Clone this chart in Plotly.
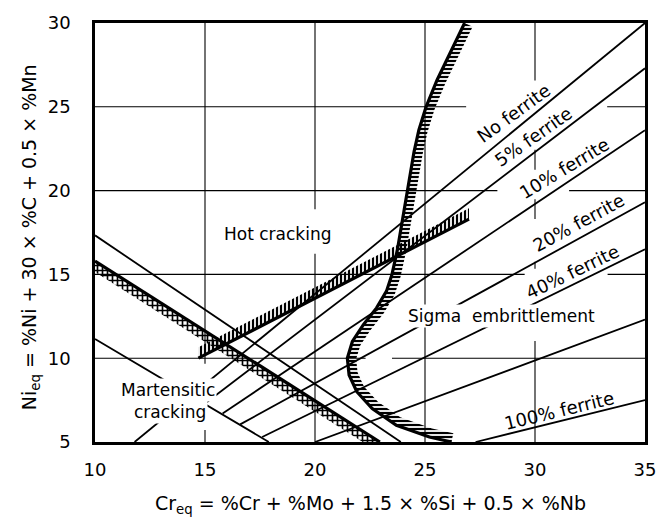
import numpy as np
import plotly.graph_objects as go

# ---------------------------------------------------------------- data
x_ticks = [10, 15, 20, 25, 30, 35]
y_ticks = [5, 10, 15, 20, 25, 30]

# iso-ferrite lines: start point and Ni_eq reached at Cr_eq = 35
ferrite_labels = ["No ferrite", "5% ferrite", "10% ferrite", "20% ferrite",
                  "40% ferrite", "", "100% ferrite"]
ferrite_x0 = [11.8, 15.0, 15.8, 16.6, 17.6, 20.0, 27.3]
ferrite_y0 = [5.0, 7.3, 6.7, 6.05, 5.3, 5.0, 5.0]
ferrite_y1 = [30.0, 27.3, 23.6, 19.3, 16.5, 12.3, 7.5]

# austenite / martensite boundaries (thin)
lower_bound_x = [10.0, 17.9]
lower_bound_y = [11.15, 5.0]
upper_bound_x = [10.0, 23.9]
upper_bound_y = [17.33, 5.0]

# martensitic-cracking limit (cross hatched)
mart_x = [10.0, 22.95]
mart_y = [15.8, 5.0]

# hot-cracking limit (hatched)
hot_x = [14.7, 27.0]
hot_y = [10.0, 18.3]

# sigma-embrittlement limit (hatched curve)
sigma_x = [26.8, 26.15, 25.55, 25.05, 24.72, 24.5, 24.2, 23.95, 23.75, 23.5,
           23.25, 22.8, 22.2, 21.7, 21.47, 21.55, 21.9, 22.6, 23.7, 25.2, 26.2]
sigma_y = [30.0, 28.2, 26.6, 25.0, 23.6, 22.3, 20.0, 18.0, 16.5, 15.0,
           14.0, 13.0, 12.0, 11.0, 10.0, 9.0, 8.0, 7.0, 6.0, 5.3, 5.0]

# ---------------------------------------------------------------- layout
W, H = 668, 517
M_L, M_R, M_T, M_B = 95, 13, 19, 75
X_RANGE = [10, 35]
Y_RANGE = [5, 30]
SX = (W - M_L - M_R) / (X_RANGE[1] - X_RANGE[0])   # px per Cr_eq unit
SY = (H - M_T - M_B) / (Y_RANGE[1] - Y_RANGE[0])   # px per Ni_eq unit

FONT = "DejaVu Sans"
INK = "black"

fig = go.Figure()

# broken grid lines
grid_v = [(15, 5, 5.71), (15, 9.67, 30), (20, 5, 16.23), (20, 18.89, 30),
          (25, 5, 30), (30, 5, 11.03), (30, 15.34, 15.76), (30, 18.3, 19.48),
          (30, 21.25, 22.43), (30, 26.57, 30)]
grid_h = [(25, 10, 26.87), (25, 33.28, 35), (20, 10, 28.29), (20, 31.55, 35),
          (15, 10, 29.53), (15, 33.3, 35), (10, 10, 22.3), (10, 23.5, 35)]
gx, gy = [], []
for xv, a, b in grid_v:
    gx += [xv, xv, None]
    gy += [a, b, None]
for yv, a, b in grid_h:
    gx += [a, b, None]
    gy += [yv, yv, None]
fig.add_trace(go.Scatter(x=gx, y=gy, mode="lines",
                         line=dict(color=INK, width=1.1), hoverinfo="skip"))


def band(xs, ys, off_px, normal=True, dx_px=0.0, dy_px=0.0):
    """Polygon between a polyline and a copy offset by off_px."""
    xs = np.asarray(xs, float)
    ys = np.asarray(ys, float)
    if normal:
        u, v = xs * SX, ys * SY
        tu, tv = np.gradient(u), np.gradient(v)
        n = np.hypot(tu, tv)
        nu, nv = -tv / n, tu / n
        ox = xs + off_px * nu / SX
        oy = ys + off_px * nv / SY
    else:
        ox = xs + dx_px / SX
        oy = ys + dy_px / SY
    px = np.concatenate([xs, ox[::-1], xs[:1]])
    py = np.concatenate([ys, oy[::-1], ys[:1]])
    return px, py


def hatch(px, py, shape, size, solidity):
    fig.add_trace(go.Scatter(
        x=px, y=py, mode="lines", fill="toself",
        line=dict(width=0, color="rgba(0,0,0,0)"),
        fillcolor="rgba(0,0,0,0)",
        fillpattern=dict(shape=shape, size=size, solidity=solidity,
                         fgcolor=INK, fgopacity=1, bgcolor="rgba(0,0,0,0)",
                         fillmode="overlay"),
        hoverinfo="skip"))


def line(xs, ys, width):
    fig.add_trace(go.Scatter(x=xs, y=ys, mode="lines",
                             line=dict(color=INK, width=width),
                             hoverinfo="skip"))


# thin constitution lines
for x0, y0, y1 in zip(ferrite_x0, ferrite_y0, ferrite_y1):
    line([x0, X_RANGE[1]], [y0, y1], 1.8)
line(lower_bound_x, lower_bound_y, 1.8)
line(upper_bound_x, upper_bound_y, 1.8)

# hatched limits
mx = np.linspace(mart_x[0], mart_x[1], 40)
my = np.interp(mx, mart_x, mart_y)
hatch(*band(mx, my, 0, normal=False, dy_px=-11), "+", 5, 0.55)
line(mart_x, mart_y, 3.2)

hx = np.linspace(hot_x[0], hot_x[1], 40)
hy = np.interp(hx, hot_x, hot_y)
hatch(*band(hx, hy, 0, normal=False, dy_px=11), "|", 4, 0.55)
line(hot_x, hot_y, 3.2)

hatch(*band(sigma_x, sigma_y, 9), "-", 4, 0.55)
line(sigma_x, sigma_y, 3.2)

# ---------------------------------------------------------------- labels
ann = []
ferrite_pos = [(29.0, 24.62, -36), (29.94, 23.2, -35), (31.32, 21.31, -31),
               (31.99, 18.12, -28.5), (31.72, 15.17, -25.7), None,
               (31.1, 6.89, -13.6)]
for lab, pos in zip(ferrite_labels, ferrite_pos):
    if lab and pos:
        ann.append(dict(x=pos[0], y=pos[1], text=lab, textangle=pos[2],
                        showarrow=False, font=dict(size=18, family=FONT, color=INK)))

for txt, x, y in [("Hot cracking", 18.33, 17.44),
                  ("Sigma  embrittlement", 28.47, 12.51),
                  ("Martensitic", 13.30, 8.13),
                  ("cracking", 13.41, 6.80)]:
    ann.append(dict(x=x, y=y, text=txt, showarrow=False, bgcolor="white",
                    borderpad=1, font=dict(size=17, family=FONT, color=INK)))

ann.append(dict(xref="paper", yref="paper", x=0.5, y=-0.149,
                text="Cr<sub>eq</sub> = %Cr + %Mo + 1.5 × %Si + 0.5 × %Nb",
                showarrow=False, yanchor="middle",
                font=dict(size=19, family=FONT, color=INK)))
ann.append(dict(xref="paper", yref="paper", x=-0.118, y=0.489,
                text="Ni<sub>eq</sub> = %Ni + 30 × %C + 0.5 × %Mn",
                textangle=-90, showarrow=False, xanchor="center",
                font=dict(size=19, family=FONT, color=INK)))

axis_common = dict(showgrid=False, zeroline=False, showline=True, mirror=True,
                   linecolor=INK, linewidth=2.6, ticks="",
                   tickfont=dict(size=18, family=FONT, color=INK))
fig.update_layout(
    width=W, height=H, margin=dict(l=M_L, r=M_R, t=M_T, b=M_B),
    paper_bgcolor="white", plot_bgcolor="white", showlegend=False,
    annotations=ann,
    xaxis=dict(range=X_RANGE, tickvals=x_ticks, ticklabelstandoff=10, **axis_common),
    yaxis=dict(range=Y_RANGE, tickvals=y_ticks, ticklabelstandoff=18, **axis_common),
)

fig.write_html("out.html")
